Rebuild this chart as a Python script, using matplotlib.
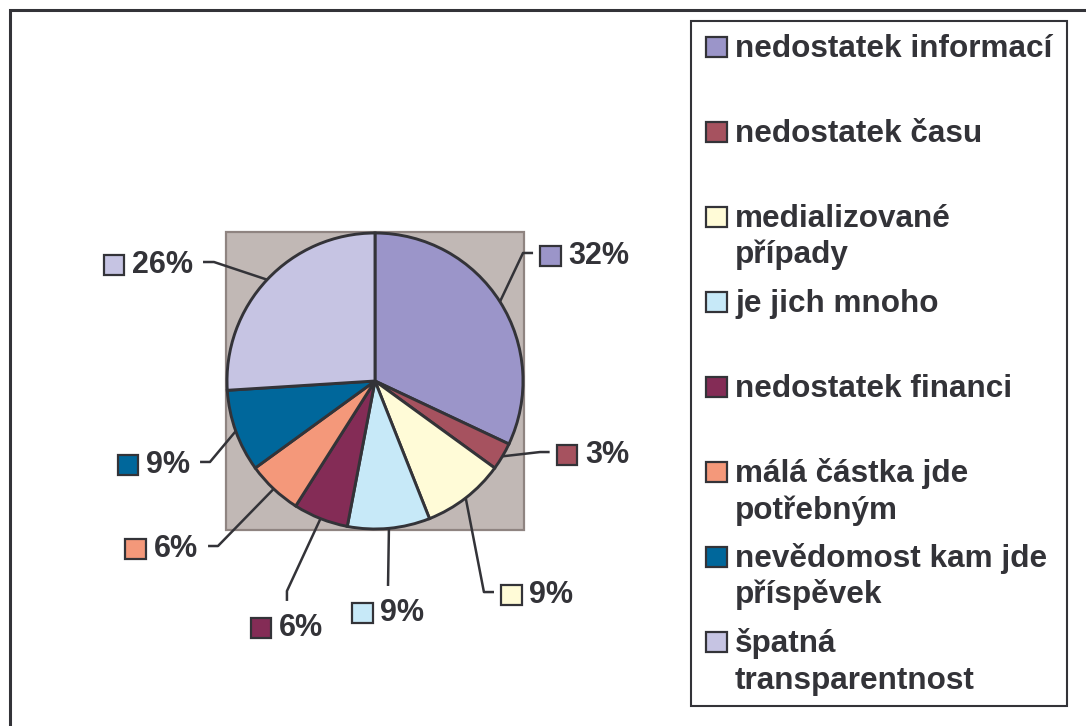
import numpy as np
import matplotlib.pyplot as plt
from matplotlib.patches import Rectangle
from matplotlib.offsetbox import DrawingArea, TextArea, HPacker, AnnotationBbox

plt.rcParams['font.family'] = ['Liberation Sans', 'DejaVu Sans']

labels = ['nedostatek informací', 'nedostatek času', 'medializované\npřípady',
          'je jich mnoho', 'nedostatek financi', 'málá částka jde\npotřebným',
          'nevědomost kam jde\npříspěvek', 'špatná\ntransparentnost']
values = [32, 3, 9, 9, 6, 6, 9, 26]
colors = ['#9b95c9', '#a6525f', '#fffbd7', '#c7e9f8', '#842c56', '#f4987a',
          '#00679b', '#c6c4e3']

dark = '#333338'
W, H = 1086, 726
R = 148.0          # pie radius in px
CX, CY = 375, 381  # pie centre in px (from top-left)

# leader line layout in pie units: elbow, end, side of the label
elbows = [(1.00, 0.865), (1.115, -0.48), (0.736, -1.426), (0.088, -1.385),
          (-0.595, -1.419), (-1.061, -1.115), (-1.115, -0.547), (-1.088, 0.804)]
ends = [(1.068, 0.865), (1.18, -0.48), (0.804, -1.426), (0.088, -1.385),
        (-0.595, -1.486), (-1.128, -1.115), (-1.182, -0.547), (-1.162, 0.804)]
sides = ['r', 'r', 'r', 'b', 'b', 'l', 'l', 'l']

fig = plt.figure(figsize=(W / 100, H / 100), dpi=100)
ax = fig.add_axes([0, 0, 1, 1])

wedges, _ = ax.pie(values, colors=colors, startangle=90, counterclock=False,
                   radius=1, wedgeprops=dict(edgecolor=dark, linewidth=2.1))
ax.set_aspect('auto')
ax.set_xlim(-CX / R, (W - CX) / R)
ax.set_ylim(-(H - CY) / R, CY / R)
ax.axis('off')

# plot area background
ax.add_patch(Rectangle((-1.007, -1.007), 2.014, 2.014, fc='#c1b8b5',
                       ec='#8f8481', lw=1.6, zorder=0))

px = 72 / 100  # one pixel in points
for w, v, c, el, en, sd in zip(wedges, values, colors, elbows, ends, sides):
    mid = np.deg2rad((w.theta1 + w.theta2) / 2)
    ex, ey = np.cos(mid), np.sin(mid)
    ax.plot([ex, el[0], en[0]], [ey, el[1], en[1]], color=dark, lw=1.8,
            solid_capstyle='butt', zorder=3)

    da = DrawingArea(15, 15, 0, 0)
    da.add_artist(Rectangle((0, 0), 15, 15, fc=c, ec=dark, lw=1.6))
    ta = TextArea(f'{v}%', textprops=dict(fontsize=22, fontweight='bold',
                                          color=dark))
    box = HPacker(children=[da, ta], align='center', pad=0, sep=5.5)
    if sd == 'r':
        xyb, al = (7 * px, -3 * px), (0, 0.5)
    elif sd == 'l':
        xyb, al = (-10 * px, -3 * px), (1, 0.5)
    else:
        xyb, al = (0, -12 * px), (0.5, 1)
    ab = AnnotationBbox(box, en, xybox=xyb, xycoords='data',
                        boxcoords='offset points', box_alignment=al,
                        frameon=False, pad=0)
    ax.add_artist(ab)

# outer frame (only top/left visible)
fig.patches.append(Rectangle((9.5 / W, -0.1), 1.2, 1.1 - 9.5 / H, fill=False,
                             ec=dark, lw=2.2, transform=fig.transFigure,
                             figure=fig))

# legend box
fig.patches.append(Rectangle((691 / W, 1 - 706 / H), 376 / W, 685 / H,
                             fill=False, ec=dark, lw=1.5,
                             transform=fig.transFigure, figure=fig))

for i, (lab, c) in enumerate(zip(labels, colors)):
    base = 57 + 85 * i
    fig.patches.append(Rectangle((706 / W, 1 - base / H), 21 / W, 20 / H,
                                 fc=c, ec=dark, lw=1.6,
                                 transform=fig.transFigure, figure=fig))
    for k, line in enumerate(lab.split('\n')):
        fig.text(735 / W, 1 - (base + 36.5 * k) / H, line, fontsize=22.7,
                 fontweight='bold', color=dark, ha='left', va='baseline')

plt.savefig('out.png', dpi=100)
